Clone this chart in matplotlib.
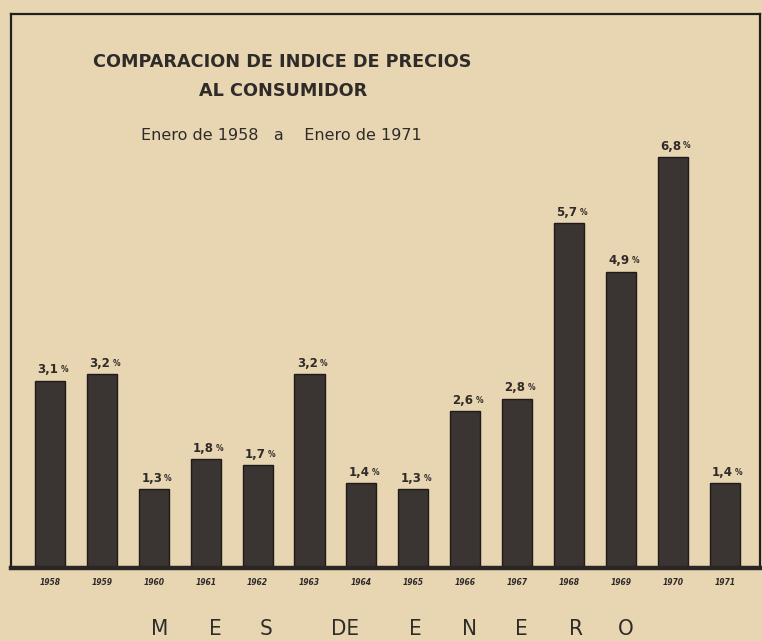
import matplotlib
matplotlib.use("Agg")
import matplotlib.pyplot as plt

years = ["1958", "1959", "1960", "1961", "1962", "1963", "1964",
         "1965", "1966", "1967", "1968", "1969", "1970", "1971"]
values = [3.1, 3.2, 1.3, 1.8, 1.7, 3.2, 1.4, 1.3, 2.6, 2.8, 5.7, 4.9, 6.8, 1.4]
value_labels = ["3,1", "3,2", "1,3", "1,8", "1,7", "3,2", "1,4",
                "1,3", "2,6", "2,8", "5,7", "4,9", "6,8", "1,4"]

title1 = "COMPARACION DE INDICE DE PRECIOS"
title2 = "AL CONSUMIDOR"
subtitle = "Enero de 1958   a    Enero de 1971"
bottom_letters = ["M", "E", "S", "DE", "E", "N", "E", "R", "O"]

paper = "#e8d6b3"
ink = "#2f2b29"

W, H = 762, 641
fig = plt.figure(figsize=(W / 100, H / 100), dpi=100, facecolor=paper)

left_px, right_px, top_px, base_px = 11, 760, 14, 568
ax = fig.add_axes([left_px / W, (H - base_px) / H,
                   (right_px - left_px) / W, (base_px - top_px) / H])
ax.set_facecolor(paper)

x = list(range(len(years)))
ax.bar(x, values, width=0.58, color="#3a3532", edgecolor="#1e1b1a", linewidth=1.0, zorder=2)

ax.set_xlim(-0.751, 13.68)
ax.set_ylim(0, 9.16)

for xi, v, lab in zip(x, values, value_labels):
    ax.annotate(lab, (xi, v), xytext=(-1.5, 3), textcoords="offset points",
                ha="center", va="bottom", fontsize=8.5, color=ink,
                fontfamily="DejaVu Sans", fontweight="bold")
    ax.annotate("%", (xi, v), xytext=(7.5, 4.5), textcoords="offset points",
                ha="left", va="bottom", fontsize=5.5, color=ink,
                fontfamily="DejaVu Sans", fontweight="bold")

ax.set_xticks(x)
ax.set_xticklabels(years, fontsize=5.5, fontstyle="italic", fontweight="bold", color=ink)
ax.tick_params(axis="x", length=0, pad=7)
ax.set_yticks([])

for side in ["left", "top", "right"]:
    ax.spines[side].set_color("#231f1c")
    ax.spines[side].set_linewidth(1.6)
ax.spines["bottom"].set_color("#2a2624")
ax.spines["bottom"].set_linewidth(3.2)

fig.text(282 / W, 1 - 62 / H, title1, ha="center", va="center",
         fontsize=12.7, color=ink, fontfamily="DejaVu Sans", fontweight="bold")
fig.text(283 / W, 1 - 91 / H, title2, ha="center", va="center",
         fontsize=12.7, color=ink, fontfamily="DejaVu Sans", fontweight="bold")
fig.text(281 / W, 1 - 135 / H, subtitle, ha="center", va="center",
         fontsize=11.5, color=ink, fontfamily="DejaVu Sans")

letter_x = [160, 215, 266, 345, 415, 470, 521, 576, 626]
for lx, letter in zip(letter_x, bottom_letters):
    fig.text(lx / W, 1 - 629 / H, letter, ha="center", va="center",
             fontsize=16, color=ink, fontfamily="DejaVu Sans",
             fontstretch="condensed")

fig.savefig("out.png", dpi=100, facecolor=paper)
